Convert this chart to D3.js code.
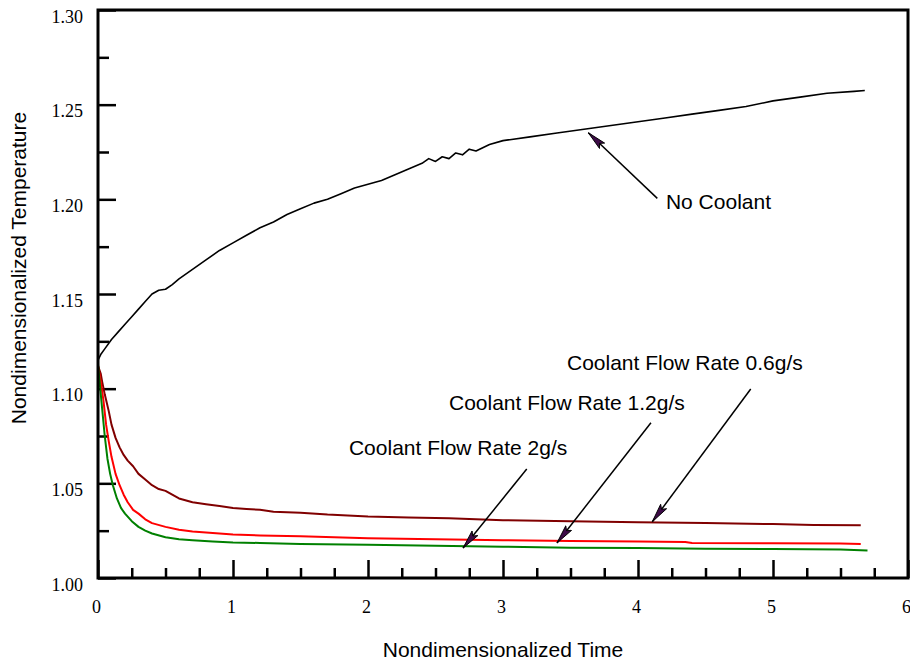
<!DOCTYPE html>
<html>
<head>
<meta charset="utf-8">
<script src="https://cdn.jsdelivr.net/npm/d3@7"></script>
<style>
  html, body { margin: 0; padding: 0; background: #fff; }
  svg { display: block; }
</style>
</head>
<body>
<svg id="chart" width="910" height="660"></svg>
<script>
// Temperature histories: [nondimensional time, nondimensional temperature]
const noCoolant = [
  [0, 1.115], [0.02, 1.118], [0.05, 1.121], [0.1, 1.126], [0.15, 1.130], [0.2, 1.134],
  [0.25, 1.138], [0.3, 1.142], [0.35, 1.146], [0.4, 1.150], [0.45, 1.152], [0.5, 1.1525],
  [0.55, 1.155], [0.6, 1.158], [0.7, 1.163], [0.8, 1.168], [0.9, 1.173], [1.0, 1.177],
  [1.1, 1.181], [1.2, 1.185], [1.3, 1.188], [1.4, 1.192], [1.5, 1.195], [1.6, 1.198],
  [1.7, 1.200], [1.8, 1.203], [1.9, 1.206], [2.0, 1.208], [2.1, 1.210], [2.2, 1.213],
  [2.3, 1.216], [2.4, 1.219], [2.45, 1.2215], [2.5, 1.2200], [2.55, 1.2225], [2.6, 1.2215],
  [2.65, 1.2245], [2.7, 1.2235], [2.75, 1.2265], [2.8, 1.2255], [2.9, 1.229], [3.0, 1.231],
  [3.2, 1.233], [3.4, 1.235], [3.6, 1.237], [3.8, 1.239], [4.0, 1.241], [4.2, 1.243],
  [4.4, 1.245], [4.6, 1.247], [4.8, 1.249], [5.0, 1.252], [5.2, 1.254], [5.4, 1.256],
  [5.6, 1.257], [5.68, 1.2575]
];

const flow06 = [
  [0, 1.112], [0.02, 1.108], [0.03, 1.104], [0.05, 1.097], [0.08, 1.088], [0.1, 1.081],
  [0.13, 1.074], [0.16, 1.069], [0.19, 1.065], [0.22, 1.062], [0.26, 1.059], [0.3, 1.055],
  [0.35, 1.052], [0.4, 1.049], [0.45, 1.047], [0.5, 1.046], [0.55, 1.044], [0.6, 1.042],
  [0.7, 1.040], [0.8, 1.039], [0.9, 1.038], [1.0, 1.037], [1.1, 1.0365], [1.2, 1.036],
  [1.3, 1.035], [1.5, 1.0345], [1.7, 1.0335], [2.0, 1.0325], [2.3, 1.032], [2.6, 1.0315],
  [3.0, 1.0305], [3.5, 1.030], [4.0, 1.0295], [4.5, 1.029], [5.0, 1.0285], [5.3, 1.028],
  [5.65, 1.0278]
];

const flow12 = [
  [0, 1.112], [0.02, 1.104], [0.04, 1.094], [0.06, 1.081], [0.08, 1.072], [0.1, 1.064],
  [0.13, 1.055], [0.16, 1.049], [0.19, 1.044], [0.22, 1.040], [0.26, 1.036], [0.3, 1.034],
  [0.35, 1.031], [0.4, 1.029], [0.5, 1.027], [0.6, 1.0255], [0.7, 1.0245], [0.8, 1.024],
  [1.0, 1.023], [1.2, 1.0225], [1.5, 1.022], [2.0, 1.021], [2.5, 1.0205], [3.0, 1.020],
  [3.5, 1.0195], [4.0, 1.0193], [4.35, 1.019], [4.4, 1.0185], [5.0, 1.0183], [5.5, 1.0182],
  [5.65, 1.018]
];

const flow20 = [
  [0, 1.113], [0.01, 1.105], [0.03, 1.090], [0.05, 1.075], [0.07, 1.063], [0.09, 1.055],
  [0.11, 1.049], [0.14, 1.042], [0.17, 1.037], [0.2, 1.034], [0.25, 1.030], [0.3, 1.027],
  [0.35, 1.025], [0.4, 1.0235], [0.5, 1.0215], [0.6, 1.0205], [0.7, 1.020], [0.85, 1.0193],
  [1.0, 1.0188], [1.2, 1.0185], [1.5, 1.018], [2.0, 1.0175], [2.5, 1.017], [3.0, 1.0165],
  [3.5, 1.016], [4.0, 1.0158], [4.5, 1.0155], [5.0, 1.0153], [5.5, 1.015], [5.7, 1.0145]
];

const seriesColors = ["#000000", "#800000", "#ff0000", "#008000"];

const xMajorTicks = [0, 1, 2, 3, 4, 5, 6];
const xMinorTicks = [0.25, 0.5, 0.75, 1.25, 1.5, 1.75, 2.25, 2.5, 2.75, 3.25, 3.5, 3.75,
                     4.25, 4.5, 4.75, 5.25, 5.5, 5.75];
const yMajorTicks = [1.00, 1.05, 1.10, 1.15, 1.20, 1.25, 1.30];
const yMinorTicks = [1.025, 1.075, 1.125, 1.175, 1.225, 1.275];

// Callouts: label anchor and arrow from tail to head, all in data units
const callouts = [
  { text: "No Coolant",               label: [4.207, 1.1949], from: [4.143, 1.2005], to: [3.632, 1.2352] },
  { text: "Coolant Flow Rate 0.6g/s", label: [3.474, 1.1099], from: [4.835, 1.0998], to: [4.106, 1.0297] },
  { text: "Coolant Flow Rate 1.2g/s", label: [2.600, 1.0887], from: [4.096, 1.0820], to: [3.400, 1.0185] },
  { text: "Coolant Flow Rate 2g/s",   label: [1.859, 1.0650], from: [3.176, 1.0576], to: [2.704, 1.0158] }
];

const svg = d3.select("#chart");
const plot = { left: 98, right: 908, top: 10, bottom: 578 };

const x = d3.scaleLinear().domain([0, 6]).range([plot.left, plot.right]);
const y = d3.scaleLinear().domain([1.00, 1.30]).range([plot.bottom, plot.top]);

const serif = "'Liberation Serif', 'Times New Roman', serif";
const sans = "'Liberation Sans', Arial, sans-serif";

// Minor ticks (inward, unlabeled)
svg.append("g")
  .attr("transform", `translate(0,${plot.bottom})`)
  .call(d3.axisBottom(x).tickValues(xMinorTicks).tickSize(-10).tickFormat(""))
  .call(g => g.select(".domain").remove())
  .call(g => g.selectAll("line").attr("stroke", "#000").attr("stroke-width", 2.5));

svg.append("g")
  .attr("transform", `translate(${plot.left},0)`)
  .call(d3.axisLeft(y).tickValues(yMinorTicks).tickSize(-11).tickFormat(""))
  .call(g => g.select(".domain").remove())
  .call(g => g.selectAll("line").attr("stroke", "#000").attr("stroke-width", 2.5));

// Major ticks with labels
svg.append("g")
  .attr("transform", `translate(0,${plot.bottom})`)
  .call(d3.axisBottom(x).tickValues(xMajorTicks).tickSize(-18).tickPadding(22).tickFormat(d3.format("d")))
  .call(g => g.select(".domain").remove())
  .call(g => g.selectAll("line").attr("stroke", "#000").attr("stroke-width", 2.5))
  .call(g => g.selectAll("text")
    .attr("fill", "#000").attr("dx", -2)
    .style("font-family", serif).style("font-size", "18px"));

svg.append("g")
  .attr("transform", `translate(${plot.left},0)`)
  .call(d3.axisLeft(y).tickValues(yMajorTicks).tickSize(-18).tickPadding(15).tickFormat(d3.format(".2f")))
  .call(g => g.select(".domain").remove())
  .call(g => g.selectAll("line").attr("stroke", "#000").attr("stroke-width", 2.5))
  .call(g => g.selectAll("text")
    .attr("fill", "#000").attr("dy", "0.68em")
    .style("font-family", serif).style("font-size", "18px"));

// Curves
const line = d3.line().x(d => x(d[0])).y(d => y(d[1]));
[noCoolant, flow06, flow12, flow20].forEach((s, i) => {
  svg.append("path")
    .datum(s)
    .attr("fill", "none")
    .attr("stroke", seriesColors[i])
    .attr("stroke-width", i === 0 ? 1.6 : 2)
    .attr("stroke-linejoin", "round")
    .attr("d", line);
});

// Frame
svg.append("rect")
  .attr("x", plot.left).attr("y", plot.top)
  .attr("width", plot.right - plot.left).attr("height", plot.bottom - plot.top)
  .attr("fill", "none").attr("stroke", "#000").attr("stroke-width", 3);

// Arrowhead
svg.append("defs").append("marker")
  .attr("id", "head")
  .attr("viewBox", "0 0 20 9")
  .attr("refX", 19.5).attr("refY", 4.5)
  .attr("markerWidth", 20).attr("markerHeight", 9)
  .attr("markerUnits", "userSpaceOnUse")
  .attr("orient", "auto")
  .append("path")
  .attr("d", "M0.5,0.8 L19.5,4.5 L0.5,8.2 L4,4.5 Z")
  .attr("fill", "#3d0b47").attr("stroke", "#000").attr("stroke-width", 0.9);

const notes = svg.append("g");
callouts.forEach(c => {
  notes.append("line")
    .attr("x1", x(c.from[0])).attr("y1", y(c.from[1]))
    .attr("x2", x(c.to[0])).attr("y2", y(c.to[1]))
    .attr("stroke", "#000").attr("stroke-width", 1.5)
    .attr("marker-end", "url(#head)");
  notes.append("text")
    .attr("x", x(c.label[0])).attr("y", y(c.label[1]))
    .style("font-family", sans).style("font-size", "21px")
    .attr("fill", "#000")
    .text(c.text);
});

// Axis titles
svg.append("text")
  .attr("x", (plot.left + plot.right) / 2).attr("y", 657)
  .attr("text-anchor", "middle")
  .style("font-family", sans).style("font-size", "21px")
  .text("Nondimensionalized Time");

svg.append("text")
  .attr("transform", "translate(26,268) rotate(-90)")
  .attr("text-anchor", "middle")
  .style("font-family", sans).style("font-size", "21px")
  .text("Nondimensionalized Temperature");
</script>
</body>
</html>
